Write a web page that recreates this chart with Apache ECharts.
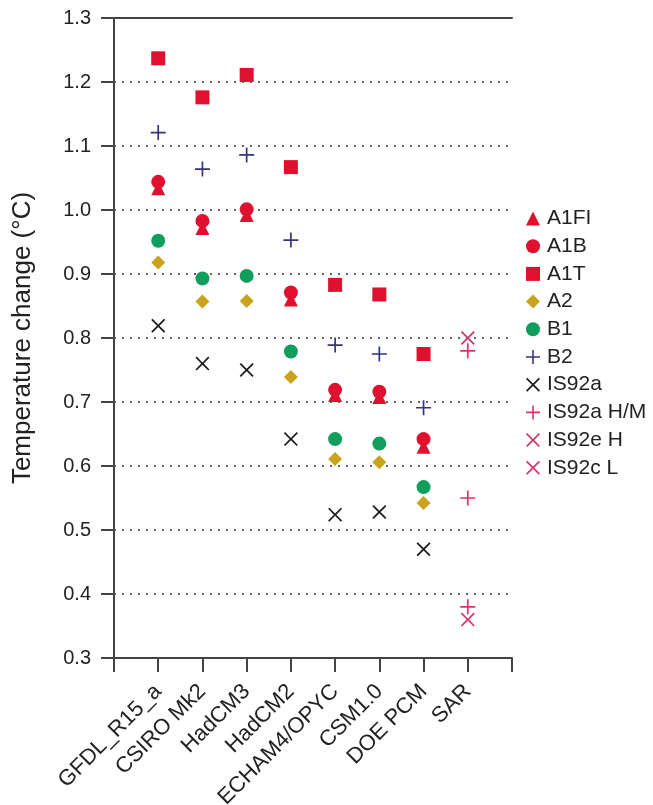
<!DOCTYPE html>
<html>
<head>
<meta charset="utf-8">
<script src="https://cdn.jsdelivr.net/npm/echarts@6/dist/echarts.min.js"></script>
<style>html,body{margin:0;padding:0;background:#fff;}#c{width:653px;height:805px;}</style>
</head>
<body>
<div id="c"></div>
<script>
var categories = ['GFDL_R15_a','CSIRO Mk2','HadCM3','HadCM2','ECHAM4/OPYC','CSM1.0','DOE PCM','SAR'];
var yTicks = [0.3,0.4,0.5,0.6,0.7,0.8,0.9,1.0,1.1,1.2,1.3];
var A1FI  = [1.034, 0.972, 0.992, 0.860, 0.711, 0.708, 0.630];
var A1B   = [1.044, 0.983, 1.001, 0.871, 0.719, 0.716, 0.642];
var A1T   = [1.237, 1.176, 1.211, 1.067, 0.883, 0.868, 0.775];
var A2    = [0.918, 0.857, 0.858, 0.739, 0.611, 0.606, 0.542];
var B1    = [0.952, 0.893, 0.897, 0.779, 0.642, 0.635, 0.567];
var B2    = [1.121, 1.064, 1.086, 0.953, 0.789, 0.775, 0.691];
var IS92a = [0.819, 0.760, 0.750, 0.642, 0.524, 0.528, 0.470];
var IS92aHM = [0.78, 0.55, 0.38];   // SAR
var IS92eH  = [0.80];               // SAR
var IS92cL  = [0.36];               // SAR

var PLUS = 'path://M-0.9,-8H0.9V-0.9H8V0.9H0.9V8H-0.9V0.9H-8V-0.9H-0.9Z';
var CROSS = 'path://M-6.6,-8L0,-1.4L6.6,-8L8,-6.6L1.4,0L8,6.6L6.6,8L0,1.4L-6.6,8L-8,6.6L-1.4,0L-8,-6.6Z';

function pts(arr, startIdx) {
  return arr.map(function (v, i) { return [startIdx + i, v]; });
}
function sarPts(arr) {
  var idx = categories.indexOf('SAR') + 1;
  return arr.map(function (v) { return [idx, v]; });
}
function ser(name, data, symbol, size, color) {
  return { name: name, type: 'scatter', data: data, symbol: symbol, symbolSize: size,
           itemStyle: { color: color, opacity: 1 }, emphasis: { disabled: true } };
}
var RED = '#e0102f';
var chart = echarts.init(document.getElementById('c'), null, { renderer: 'canvas' });
chart.setOption({
  animation: false,
  backgroundColor: '#fff',
  textStyle: { fontFamily: 'Liberation Sans, Arial, sans-serif' },
  grid: { left: 114, right: 141, top: 18, bottom: 147, containLabel: false, outerBoundsMode: 'none' },
  legend: {
    orient: 'vertical', left: 526, top: 208, padding: 0,
    itemWidth: 14, itemHeight: 14, itemGap: 6.7,
    textStyle: { fontSize: 21, color: '#222', lineHeight: 21, padding: [0,0,0,2] },
    data: [
      { name: 'A1FI', icon: 'triangle' },
      { name: 'A1B', icon: 'circle' },
      { name: 'A1T', icon: 'rect' },
      { name: 'A2', icon: 'diamond' },
      { name: 'B1', icon: 'circle' },
      { name: 'B2', icon: PLUS },
      { name: 'IS92a', icon: CROSS },
      { name: 'IS92a H/M', icon: PLUS },
      { name: 'IS92e H', icon: CROSS },
      { name: 'IS92c L', icon: CROSS }
    ]
  },
  xAxis: [{
    type: 'value', min: 0, max: 9, interval: 1,
    axisLine: { lineStyle: { color: '#444', width: 2 } },
    axisTick: { show: true, length: 14, lineStyle: { color: '#444', width: 2 } },
    splitLine: { show: false },
    axisLabel: {
      rotate: 45, fontSize: 22, color: '#222', margin: 30,
      formatter: function (v) { return categories[v - 1] || ''; }
    }
  }, {
    type: 'value', min: 0, max: 9, position: 'top',
    axisLine: { show: true, lineStyle: { color: '#444', width: 2 } },
    axisTick: { show: false }, axisLabel: { show: false }, splitLine: { show: false }
  }],
  yAxis: [{
    type: 'value', min: 0.3, max: 1.3, interval: 0.1,
    name: 'Temperature change (°C)', nameLocation: 'middle', nameGap: 78,
    nameTextStyle: { fontSize: 26, color: '#222' },
    axisLine: { show: true, lineStyle: { color: '#444', width: 2 } },
    axisTick: { show: true, length: 13, lineStyle: { color: '#444', width: 2 } },
    axisLabel: { fontSize: 20, color: '#222', margin: 23,
      formatter: function (v) { return Number(v).toFixed(1); } },
    splitLine: { show: true, lineStyle: { color: '#333', width: 1.6, type: [2, 6] } }
  }, {
    type: 'value', min: 0.3, max: 1.3, position: 'right',
    axisLine: { show: true, lineStyle: { color: '#444', width: 2 } },
    axisTick: { show: false }, axisLabel: { show: false }, splitLine: { show: false }
  }],
  series: [
    ser('A1FI', pts(A1FI, 1), 'triangle', 14, RED),
    ser('A1B', pts(A1B, 1), 'circle', 14, RED),
    ser('A1T', pts(A1T, 1), 'rect', 14, RED),
    ser('A2', pts(A2, 1), 'diamond', 14, '#c9a31c'),
    ser('B1', pts(B1, 1), 'circle', 14, '#119d5c'),
    ser('B2', pts(B2, 1), PLUS, 15, '#33337f'),
    ser('IS92a', pts(IS92a, 1), CROSS, 14, '#1a1a1a'),
    ser('IS92a H/M', sarPts(IS92aHM), PLUS, 15, '#e0306b'),
    ser('IS92e H', sarPts(IS92eH), CROSS, 14, '#c8386c'),
    ser('IS92c L', sarPts(IS92cL), CROSS, 14, '#e0306b')
  ]
});
</script>
</body>
</html>
